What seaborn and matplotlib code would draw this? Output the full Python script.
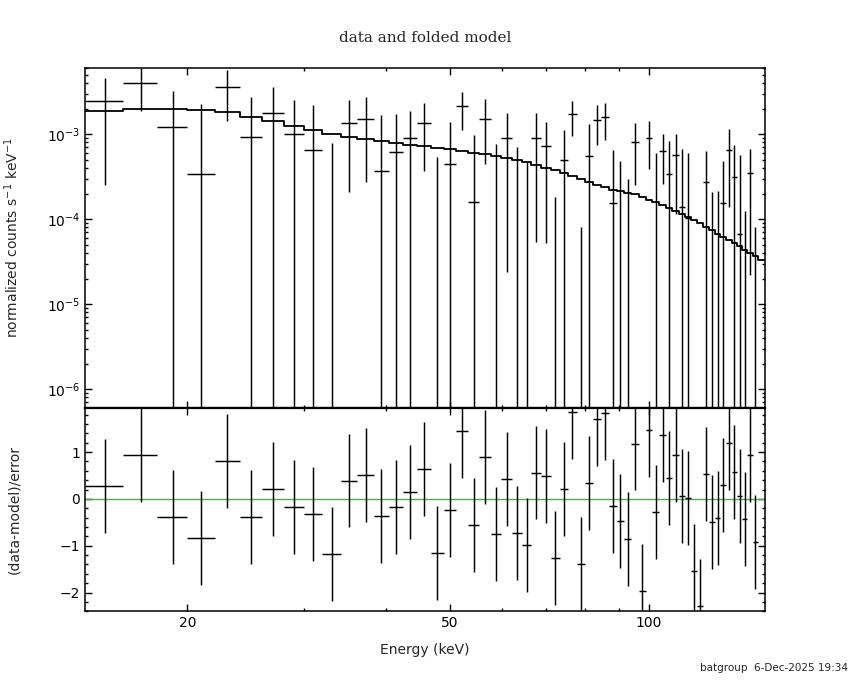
import numpy as np
import matplotlib
matplotlib.use("Agg")
import matplotlib.pyplot as plt
from matplotlib.ticker import FixedLocator, NullFormatter, LogLocator, MultipleLocator, FixedFormatter
import seaborn as sns
import pandas as pd

# ---------------- data ----------------
edges = [14, 16, 18, 20, 22, 24, 26, 28, 30, 32,
         34.2, 36.2, 38.3, 40.4, 42.5, 44.6, 46.8, 48.9, 51.1, 53.2,
         55.4, 57.6, 59.8, 62.0, 64.2, 66.4, 68.7, 71.0, 73.3, 75.5,
         77.8, 80.1, 82.4, 84.7, 87.0, 89.4, 91.8, 94.1, 96.5, 98.9,
         101.3, 103.7, 106.2, 108.6, 111.0, 113.5, 115.9, 118.4, 120.9, 123.4,
         126.0, 128.4, 131.0, 133.5, 136.0, 138.6, 141.1, 143.7, 146.4, 150.0]

model = [1.85e-3, 1.97e-3, 1.96e-3, 1.93e-3, 1.81e-3, 1.61e-3, 1.41e-3, 1.24e-3, 1.12e-3, 1.00e-3,
         9.3e-4, 8.8e-4, 8.28e-4, 7.84e-4, 7.55e-4, 7.23e-4, 6.95e-4, 6.71e-4, 6.31e-4, 6.03e-4,
         5.82e-4, 5.56e-4, 5.22e-4, 4.95e-4, 4.64e-4, 4.35e-4, 4.05e-4, 3.77e-4, 3.47e-4, 3.26e-4,
         2.98e-4, 2.77e-4, 2.55e-4, 2.40e-4, 2.21e-4, 2.13e-4, 2.05e-4, 1.95e-4, 1.83e-4, 1.70e-4,
         1.58e-4, 1.47e-4, 1.36e-4, 1.25e-4, 1.15e-4, 1.06e-4, 9.8e-5, 8.9e-5, 8.1e-5, 7.4e-5,
         6.7e-5, 6.2e-5, 5.7e-5, 5.3e-5, 4.8e-5, 4.35e-5, 4.0e-5, 3.65e-5, 3.3e-5]

rate = [2.44e-3, 3.98e-3, 1.21e-3, 3.38e-4, 3.57e-3, 9.2e-4, 1.77e-3, 1.01e-3, 6.53e-4, -3.8e-4,
        1.35e-3, 1.50e-3, 3.67e-4, 6.14e-4, 9.04e-4, 1.35e-3, -4.9e-4, 4.44e-4, 2.13e-3, 1.58e-4,
        1.51e-3, -8e-5, 9.04e-4, -9e-5, -3.2e-4, 9.04e-4, 7.23e-4, -5.7e-4, 4.95e-4, 1.72e-3,
        -4.8e-4, 5.56e-4, 1.47e-3, 1.58e-3, 1.56e-4, -2.3e-5, -3.1e-4, 8.05e-4, -8.0e-4, 9.04e-4,
        -1.3e-5, 6.31e-4, 3.38e-4, 5.66e-4, 1.38e-4, 1.04e-4, -5.2e-4, -8.3e-4, 2.72e-4, -5.3e-5,
        -3.6e-5, 1.56e-4, 6.49e-4, 3.15e-4, 6.67e-5, -1.8e-5, 3.47e-4, -4.2e-4, np.nan]

rate_err = [2.19e-3, 2.10e-3, 2.02e-3, 1.95e-3, 2.15e-3, 1.83e-3, 1.83e-3, 1.53e-3, 1.56e-3, 1.17e-3,
            1.14e-3, 1.23e-3, 1.32e-3, 1.12e-3, 0.98e-3, 0.98e-3, 1.03e-3, 0.95e-3, 1.02e-3, 8.2e-4,
            1.07e-3, 8.5e-4, 8.8e-4, 8.0e-4, 8.0e-4, 8.5e-4, 6.7e-4, 7.5e-4, 6.3e-4, 7.6e-4,
            5.6e-4, 7.7e-4, 7.3e-4, 7.3e-4, 4.9e-4, 5.1e-4, 6.1e-4, 5.5e-4, 5.0e-4, 5.2e-4,
            6.1e-4, 3.7e-4, 5.0e-4, 4.5e-4, 5.3e-4, 4.9e-4, 4.0e-4, 4.0e-4, 3.65e-4, 2.6e-4,
            2.5e-4, 3.3e-4, 5.1e-4, 4.3e-4, 5.0e-4, 1.43e-4, 3.25e-4, 5.0e-4, np.nan]

resid = [0.28, 0.94, -0.38, -0.83, 0.81, -0.38, 0.21, -0.17, -0.32, -1.18,
         0.39, 0.51, -0.36, -0.17, 0.15, 0.64, -1.15, -0.24, 1.45, -0.56,
         0.90, -0.75, 0.43, -0.73, -0.98, 0.56, 0.49, -1.26, 0.21, 1.86,
         -1.39, 0.34, 1.71, 1.84, -0.15, -0.47, -0.85, 1.18, -1.97, 1.47,
         -0.28, 1.37, 0.45, 0.94, 0.06, 0.02, -1.54, -2.29, 0.53, -0.49,
         -0.41, 0.30, 1.20, 0.58, 0.06, -0.43, 0.94, -0.92, np.nan]

x_major = [20, 50, 100]
x_major_labels = ["20", "50", "100"]
x_minor = [30, 40, 60, 70, 80, 90]
res_major = [-2, -1, 0, 1]

title = "data and folded model"
ylabel_top = "normalized counts s$^{-1}$ keV$^{-1}$"
ylabel_bot = "(data-model)/error"
xlabel = "Energy (keV)"
footer = "batgroup  6-Dec-2025 19:34"

# ---------------- style ----------------
sns.set_theme(style="ticks")
plt.rcParams['font.family'] = ['DejaVu Sans']
plt.rcParams['axes.linewidth'] = 1.1
plt.rcParams['axes.edgecolor'] = 'black'
plt.rcParams['xtick.color'] = 'black'
plt.rcParams['ytick.color'] = 'black'

fig = plt.figure(figsize=(8.5, 6.8), dpi=100)
fig.patch.set_facecolor('white')
ax1 = fig.add_axes([0.1, 0.4, 0.8, 0.5])
ax2 = fig.add_axes([0.1, 0.101, 0.8, 0.299], sharex=ax1)

lo = np.array(edges[:-1])
hi = np.array(edges[1:])
cen = 0.5 * (lo + hi)
d = np.array(rate, dtype=float)
e = np.array(rate_err, dtype=float)
r = np.array(resid, dtype=float)

# model step line
df_model = pd.DataFrame({"E": edges, "m": model + [model[-1]]})
sns.lineplot(data=df_model, x="E", y="m", ax=ax1, color="black", lw=1.3,
             drawstyle="steps-post", estimator=None, sort=False, legend=False)

# data crosses in top panel
ok = np.isfinite(d)
top = d + e
show_v = ok & (top > 0)
ax1.vlines(cen[show_v], np.clip(d[show_v] - e[show_v], 1e-9, None), top[show_v],
           color="black", lw=1.05)
show_h = ok & (d > 0)
ax1.hlines(d[show_h], lo[show_h], hi[show_h], color="black", lw=1.05)

# residual panel
okr = np.isfinite(r)
ax2.axhline(0, color="#22cc22", lw=1.0, zorder=1)
ax2.vlines(cen[okr], r[okr] - 1.0, r[okr] + 1.0, color="black", lw=1.05, zorder=2)
ax2.hlines(r[okr], lo[okr], hi[okr], color="black", lw=1.05, zorder=2)

# scales and limits
ax1.set_xscale("log")
ax1.set_yscale("log")
ax1.set_xlim(14, 150)
ax1.set_ylim(6e-7, 6e-3)
ax2.set_ylim(-2.4, 1.94)

for ax in (ax1, ax2):
    ax.tick_params(which="both", direction="in", top=True, right=True,
                   labelsize=10, width=1.0)
    ax.tick_params(which="major", length=5)
    ax.tick_params(which="minor", length=2.5)
    ax.set_xlabel("")
    ax.set_ylabel("")
ax1.spines["bottom"].set_linewidth(1.6)
ax2.spines["top"].set_linewidth(1.6)

ax2.xaxis.set_major_locator(FixedLocator(x_major))
ax2.xaxis.set_major_formatter(FixedFormatter(x_major_labels))
ax2.xaxis.set_minor_locator(FixedLocator(x_minor))
ax2.xaxis.set_minor_formatter(NullFormatter())
ax1.tick_params(axis="x", which="both", labelbottom=False)

ax1.yaxis.set_major_locator(LogLocator(base=10, numticks=10))
ax1.yaxis.set_minor_locator(LogLocator(base=10, subs=np.arange(2, 10), numticks=10))
ax1.yaxis.set_minor_formatter(NullFormatter())

ax2.yaxis.set_major_locator(FixedLocator(res_major))
ax2.yaxis.set_minor_locator(MultipleLocator(0.2))

ax1.set_ylabel(ylabel_top, fontsize=10)
ax1.yaxis.set_label_coords(-0.094, 0.5)
ax2.set_ylabel(ylabel_bot, fontsize=10)
ax2.yaxis.set_label_coords(-0.094, 0.5)
ax2.set_xlabel(xlabel, fontsize=10)
ax2.xaxis.set_label_coords(0.5, -0.155)

fig.text(0.5, 1 - 38 / 680, title, ha="center", va="center",
         family="DejaVu Serif", fontsize=11)
fig.text(848 / 850, 1 - 668 / 680, footer, ha="right", va="center", fontsize=7.5)

fig.savefig("out.png", dpi=100, facecolor="white")
